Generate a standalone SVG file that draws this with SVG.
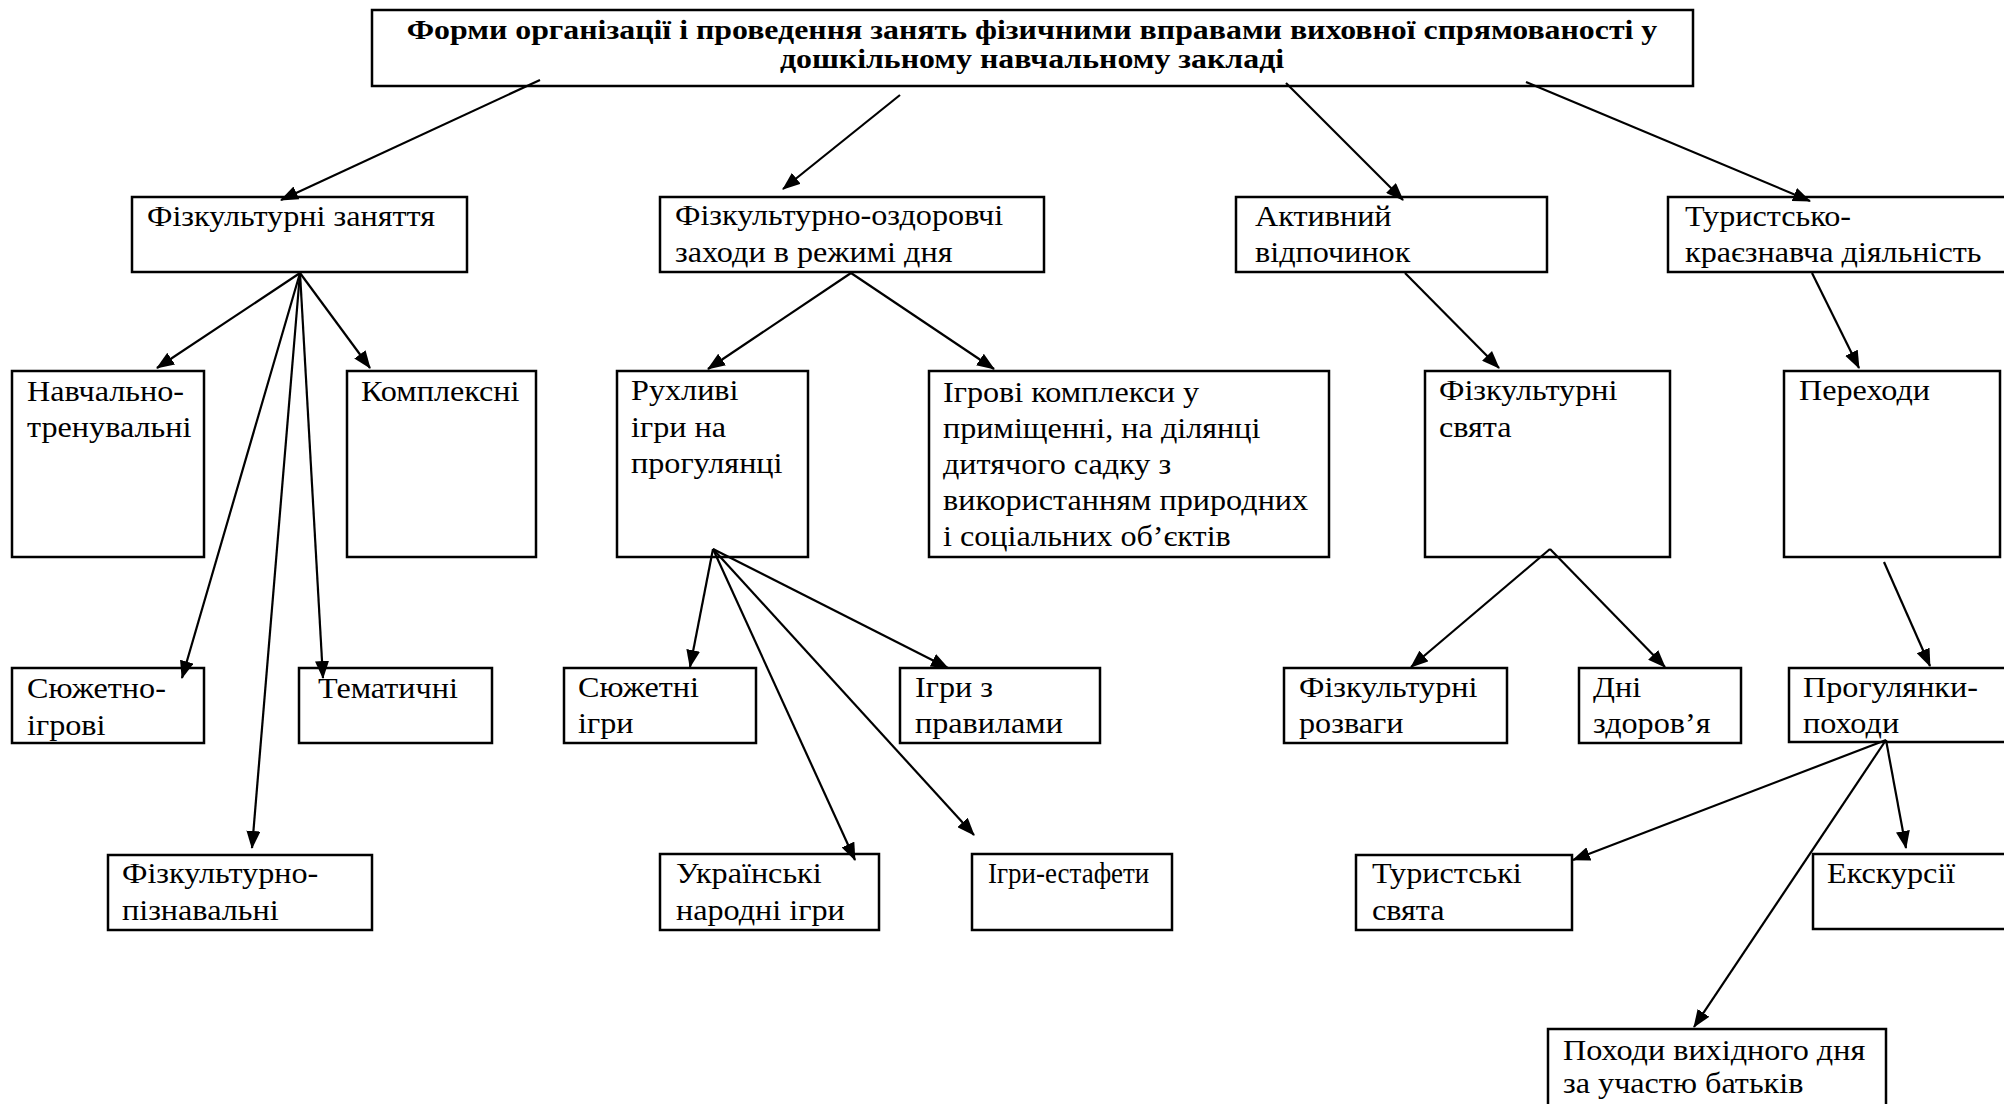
<svg xmlns="http://www.w3.org/2000/svg" width="2004" height="1104" viewBox="0 0 2004 1104">
<style>
  rect.b { fill: #fff; stroke: #000; stroke-width: 2.5; }
  text { font-family: "Liberation Serif", "Times New Roman", serif; font-size: 29px; fill: #000; }
  text.t { font-weight: bold; font-size: 27px; text-anchor: middle; }
  #connectors line { stroke: #000; stroke-width: 2.2; marker-end: url(#ah); }
</style>
<defs>
  <marker id="ah" viewBox="0 0 18 14" refX="17" refY="7" markerWidth="18" markerHeight="14" markerUnits="userSpaceOnUse" orient="auto">
    <path d="M0,0 L18,7 L0,14 z" fill="#000"/>
  </marker>
</defs>
<rect width="2004" height="1104" fill="#fff"/>

<g id="n-root"><rect class="b" x="372" y="10" width="1321" height="76"/>
  <text class="t" transform="translate(1032,0) scale(1.18,1)"><tspan x="0" y="39">Форми організації і проведення занять фізичними вправами виховної спрямованості у</tspan><tspan x="0" y="68">дошкільному навчальному закладі</tspan></text></g>

<g id="n-fz"><rect class="b" x="132" y="197" width="335" height="75"/>
  <text transform="translate(147,0) scale(1.11,1)"><tspan x="0" y="226">Фізкультурні заняття</tspan></text></g>
<g id="n-foz"><rect class="b" x="660" y="197" width="384" height="75"/>
  <text transform="translate(675,0) scale(1.11,1)"><tspan x="0" y="225">Фізкультурно-оздоровчі</tspan><tspan x="0" y="262">заходи в режимі дня</tspan></text></g>
<g id="n-av"><rect class="b" x="1236" y="197" width="311" height="75"/>
  <text transform="translate(1255,0) scale(1.11,1)"><tspan x="0" y="226">Активний</tspan><tspan x="0" y="262">відпочинок</tspan></text></g>
<g id="n-tk"><rect class="b" x="1668" y="197" width="345" height="75"/>
  <text transform="translate(1685,0) scale(1.11,1)"><tspan x="0" y="226">Туристсько-</tspan><tspan x="0" y="262">краєзнавча діяльність</tspan></text></g>

<g id="n-nt"><rect class="b" x="12" y="371" width="192" height="186"/>
  <text transform="translate(27,0) scale(1.11,1)"><tspan x="0" y="401">Навчально-</tspan><tspan x="0" y="437">тренувальні</tspan></text></g>
<g id="n-km"><rect class="b" x="347" y="371" width="189" height="186"/>
  <text transform="translate(361,0) scale(1.11,1)"><tspan x="0" y="401">Комплексні</tspan></text></g>
<g id="n-si"><rect class="b" x="12" y="668" width="192" height="75"/>
  <text transform="translate(27,0) scale(1.11,1)"><tspan x="0" y="698">Сюжетно-</tspan><tspan x="0" y="735">ігрові</tspan></text></g>
<g id="n-tm"><rect class="b" x="299" y="668" width="193" height="75"/>
  <text transform="translate(318,0) scale(1.11,1)"><tspan x="0" y="698">Тематичні</tspan></text></g>
<g id="n-fp"><rect class="b" x="108" y="855" width="264" height="75"/>
  <text transform="translate(122,0) scale(1.11,1)"><tspan x="0" y="883">Фізкультурно-</tspan><tspan x="0" y="920">пізнавальні</tspan></text></g>

<g id="n-rh"><rect class="b" x="617" y="371" width="191" height="186"/>
  <text transform="translate(631,0) scale(1.11,1)"><tspan x="0" y="400">Рухливі</tspan><tspan x="0" y="437">ігри на</tspan><tspan x="0" y="473">прогулянці</tspan></text></g>
<g id="n-ik"><rect class="b" x="929" y="371" width="400" height="186"/>
  <text transform="translate(943,0) scale(1.11,1)"><tspan x="0" y="402">Ігрові комплекси у</tspan><tspan x="0" y="438">приміщенні, на ділянці</tspan><tspan x="0" y="474">дитячого садку з</tspan><tspan x="0" y="510">використанням природних</tspan><tspan x="0" y="546">і соціальних об’єктів</tspan></text></g>
<g id="n-sig"><rect class="b" x="564" y="668" width="192" height="75"/>
  <text transform="translate(578,0) scale(1.11,1)"><tspan x="0" y="697">Сюжетні</tspan><tspan x="0" y="733">ігри</tspan></text></g>
<g id="n-izp"><rect class="b" x="900" y="668" width="200" height="75"/>
  <text transform="translate(915,0) scale(1.11,1)"><tspan x="0" y="697">Ігри з</tspan><tspan x="0" y="733">правилами</tspan></text></g>
<g id="n-ung"><rect class="b" x="660" y="854" width="219" height="76"/>
  <text transform="translate(676,0) scale(1.11,1)"><tspan x="0" y="883">Українські</tspan><tspan x="0" y="920">народні ігри</tspan></text></g>
<g id="n-ie"><rect class="b" x="972" y="854" width="200" height="76"/>
  <text transform="translate(988,0) scale(0.93,1)"><tspan x="0" y="883">Ігри-естафети</tspan></text></g>

<g id="n-fs"><rect class="b" x="1425" y="371" width="245" height="186"/>
  <text transform="translate(1439,0) scale(1.11,1)"><tspan x="0" y="400">Фізкультурні</tspan><tspan x="0" y="437">свята</tspan></text></g>
<g id="n-pr"><rect class="b" x="1784" y="371" width="216" height="186"/>
  <text transform="translate(1799,0) scale(1.11,1)"><tspan x="0" y="400">Переходи</tspan></text></g>
<g id="n-fr"><rect class="b" x="1284" y="668" width="223" height="75"/>
  <text transform="translate(1299,0) scale(1.11,1)"><tspan x="0" y="697">Фізкультурні</tspan><tspan x="0" y="733">розваги</tspan></text></g>
<g id="n-dz"><rect class="b" x="1579" y="668" width="162" height="75"/>
  <text transform="translate(1593,0) scale(1.11,1)"><tspan x="0" y="697">Дні</tspan><tspan x="0" y="733">здоров’я</tspan></text></g>
<g id="n-pp"><rect class="b" x="1789" y="668" width="230" height="74"/>
  <text transform="translate(1803,0) scale(1.11,1)"><tspan x="0" y="697">Прогулянки-</tspan><tspan x="0" y="733">походи</tspan></text></g>
<g id="n-ts"><rect class="b" x="1356" y="855" width="216" height="75"/>
  <text transform="translate(1372,0) scale(1.11,1)"><tspan x="0" y="883">Туристські</tspan><tspan x="0" y="920">свята</tspan></text></g>
<g id="n-ek"><rect class="b" x="1813" y="854" width="210" height="75"/>
  <text transform="translate(1827,0) scale(1.11,1)"><tspan x="0" y="883">Екскурсії</tspan></text></g>
<g id="n-pv"><rect class="b" x="1548" y="1029" width="338" height="90"/>
  <text transform="translate(1563,0) scale(1.11,1)"><tspan x="0" y="1060">Походи вихідного дня</tspan><tspan x="0" y="1093">за участю батьків</tspan></text></g>

<g id="connectors">
  <line x1="540" y1="80" x2="281" y2="200"/>
  <line x1="900" y1="95" x2="783" y2="189"/>
  <line x1="1286" y1="83" x2="1403" y2="200"/>
  <line x1="1526" y1="82" x2="1810" y2="201"/>
  <line x1="300" y1="273" x2="157" y2="368"/>
  <line x1="300" y1="273" x2="370" y2="368"/>
  <line x1="300" y1="273" x2="182" y2="678"/>
  <line x1="300" y1="273" x2="323" y2="678"/>
  <line x1="300" y1="273" x2="252" y2="848"/>
  <line x1="851" y1="273" x2="708" y2="369"/>
  <line x1="851" y1="273" x2="994" y2="369"/>
  <line x1="713" y1="549" x2="690" y2="667"/>
  <line x1="713" y1="549" x2="948" y2="668"/>
  <line x1="713" y1="549" x2="855" y2="860"/>
  <line x1="713" y1="549" x2="974" y2="835"/>
  <line x1="1405" y1="273" x2="1499" y2="368"/>
  <line x1="1812" y1="273" x2="1859" y2="368"/>
  <line x1="1550" y1="549" x2="1411" y2="667"/>
  <line x1="1550" y1="549" x2="1665" y2="667"/>
  <line x1="1884" y1="562" x2="1930" y2="666"/>
  <line x1="1886" y1="740" x2="1573" y2="860"/>
  <line x1="1886" y1="740" x2="1906" y2="848"/>
  <line x1="1886" y1="740" x2="1694" y2="1027"/>
</g>
</svg>
